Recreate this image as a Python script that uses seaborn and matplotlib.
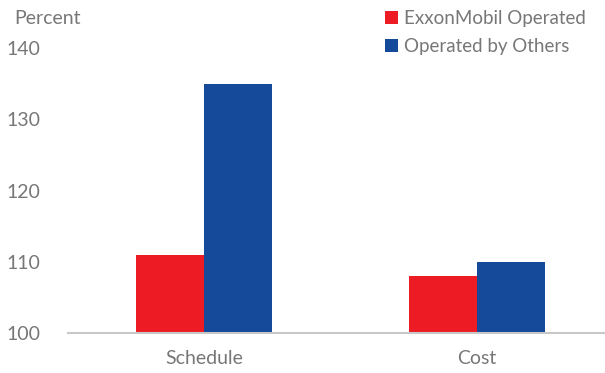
import matplotlib
matplotlib.use("Agg")
import matplotlib.pyplot as plt
import seaborn as sns
import pandas as pd

categories = ["Schedule", "Cost"]
exxon_operated = [111, 108]
operated_by_others = [135, 110]
series_names = ["ExxonMobil Operated", "Operated by Others"]
y_ticks = [100, 110, 120, 130, 140]

df = pd.DataFrame({
    "category": categories * 2,
    "value": exxon_operated + operated_by_others,
    "series": [series_names[0]] * 2 + [series_names[1]] * 2,
})

sns.set_style("white")
plt.rcParams["font.family"] = ["Lato", "DejaVu Sans"]

fig = plt.figure(figsize=(6.05, 3.73), dpi=100)
ax = fig.add_axes([68 / 605, 40 / 373, 1 - 68 / 605, 285 / 373])

palette = {series_names[0]: "#ED1C24", series_names[1]: "#154A9A"}
sns.barplot(data=df, x="category", y="value", hue="series", palette=palette,
            width=0.5, saturation=1, ax=ax, legend=True)

ax.set_ylim(100, 140)
ax.set_xlim(-0.5, 1.47)
ax.set_yticks(y_ticks)
ax.set_xlabel("")
ax.set_ylabel("")
for s in ["top", "right", "left"]:
    ax.spines[s].set_visible(False)
ax.spines["bottom"].set_color("#c8c8c8")
ax.spines["bottom"].set_linewidth(1.5)
ax.tick_params(axis="both", length=0, colors="#777777", labelsize=14)
ax.tick_params(axis="x", pad=12)
ax.tick_params(axis="y", pad=20)
for bar in ax.patches:
    bar.set_edgecolor("none")

fig.text(14 / 605, 1 - 18 / 373, "Percent", color="#777777", fontsize=14,
         va="center", ha="left")

handles, labels = ax.get_legend_handles_labels()
ax.legend(handles, labels, loc="upper right", bbox_to_anchor=(0.985, 1.0),
          bbox_transform=fig.transFigure, frameon=False, fontsize=13.5,
          labelcolor="#777777", handlelength=0.7, handleheight=0.7,
          handletextpad=0.3, labelspacing=0.55, borderaxespad=0.15)

fig.savefig("out.png", dpi=100)
